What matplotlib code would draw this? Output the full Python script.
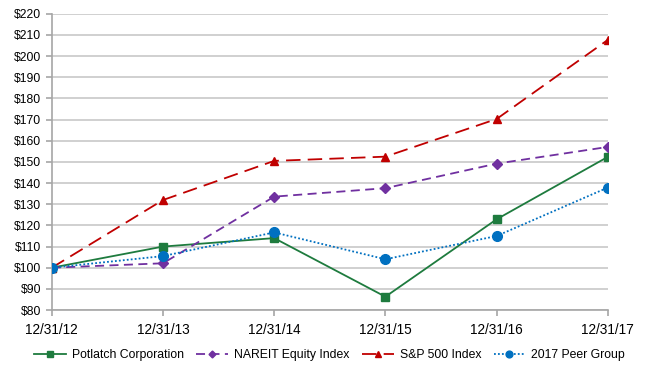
import matplotlib.pyplot as plt

plt.rcParams['font.family'] = ['Liberation Sans', 'DejaVu Sans']

dates = ['12/31/12', '12/31/13', '12/31/14', '12/31/15', '12/31/16', '12/31/17']
potlatch = [100, 110, 114, 86.3, 122.9, 152.4]
nareit = [100, 102.1, 133.6, 137.6, 149.2, 157.1]
sp500 = [100, 132, 150.5, 152.5, 170.3, 207.7]
peer = [100, 105.5, 116.7, 104, 115, 137.9]

series = [
    {"label": "Potlatch Corporation", "values": potlatch, "color": "#1E7B3E", "marker": "s", "ls": "-", "ms": 6},
    {"label": "NAREIT Equity Index", "values": nareit, "color": "#7030A0", "marker": "D", "ls": (0, (5, 3)), "ms": 5},
    {"label": "S&P 500 Index", "values": sp500, "color": "#C00000", "marker": "^", "ls": (0, (8, 4)), "ms": 6},
    {"label": "2017 Peer Group", "values": peer, "color": "#0070C0", "marker": "o", "ls": (0, (1, 1.2)), "ms": 7},
]

fig = plt.figure(figsize=(6.55, 3.74), dpi=100)
ax = fig.add_axes([0.079, 0.171, 0.849, 0.792])

x = list(range(len(dates)))
for s in series:
    ax.plot(x, s["values"], color=s["color"], marker=s["marker"], linestyle=s["ls"],
            markersize=s["ms"], linewidth=1.3, label=s["label"], zorder=3)

ax.set_xlim(0, len(dates) - 1)
ax.set_ylim(80, 220)
ax.set_yticks(range(80, 221, 10))
ax.set_yticklabels(['$%d' % v for v in range(80, 221, 10)])
ax.set_xticks(x)
ax.set_xticklabels(dates)
ax.grid(axis='y', color='#C8C8C8', linewidth=1.2)
ax.set_axisbelow(True)
for side in ['top', 'right']:
    ax.spines[side].set_visible(False)
for side in ['left', 'bottom']:
    ax.spines[side].set_color('#A6A6A6')
    ax.spines[side].set_linewidth(1.2)
ax.tick_params(axis='both', colors='#A6A6A6', length=4, width=1.2, labelcolor='black', labelsize=8.7)
ax.tick_params(axis='x', pad=5, labelsize=9.8)

ax.legend(loc='upper center', bbox_to_anchor=(0.5, -0.095), ncol=4, frameon=False,
          fontsize=8.8, handlelength=2.6, handletextpad=0.5, columnspacing=1.0, markerscale=0.7)

fig.savefig('out.png', dpi=100)
